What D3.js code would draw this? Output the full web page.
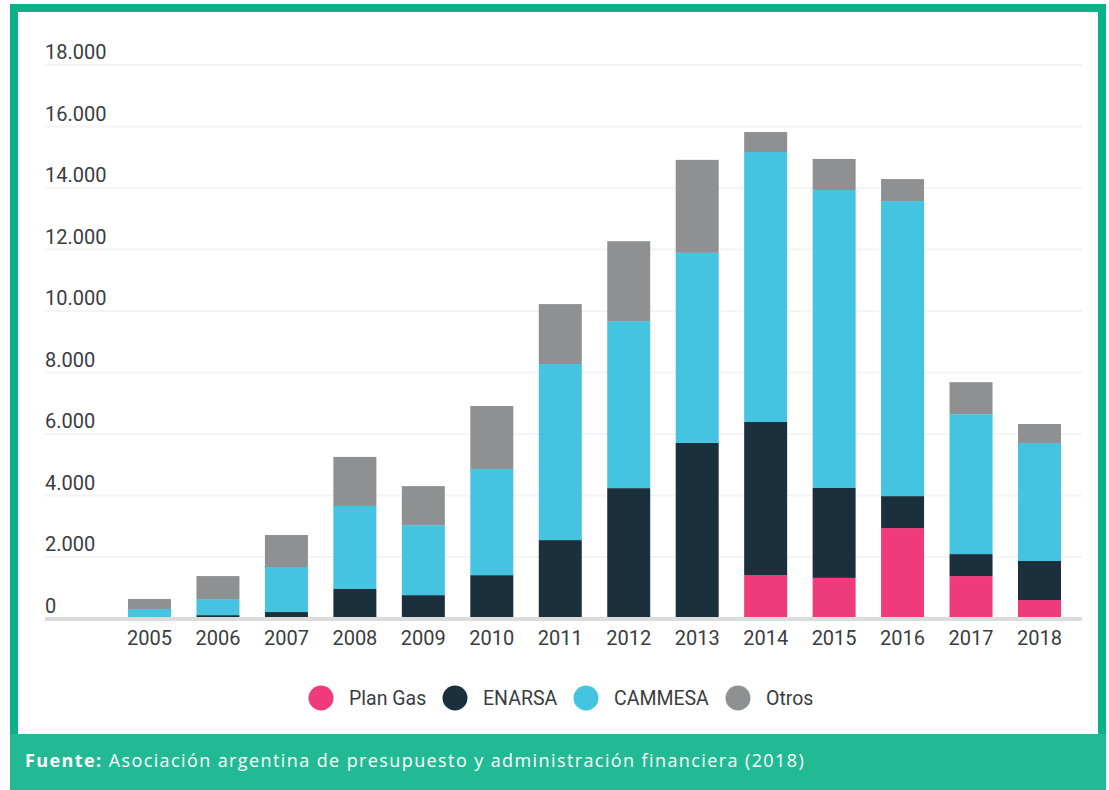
<!DOCTYPE html>
<html>
<head>
<meta charset="utf-8">
<script src="https://cdn.jsdelivr.net/npm/d3@7"></script>
<style>
  html, body { margin: 0; padding: 0; background: #fff; }
  svg { display: block; font-family: Roboto, "Noto Sans", sans-serif; }
</style>
</head>
<body>
<svg id="chart" width="1109" height="790"></svg>
<script>
// Datos (millones de $)
const years = ['2005', '2006', '2007', '2008', '2009', '2010', '2011', '2012', '2013', '2014', '2015', '2016', '2017', '2018'];
const planGas = [0, 0, 0, 0, 0, 0, 0, 0, 0, 1415, 1320, 2940, 1380, 600];
const enarsa  = [0, 110, 210, 960, 760, 1410, 2550, 4240, 5710, 4975, 2925, 1040, 715, 1270];
const cammesa = [310, 520, 1465, 2700, 2275, 3450, 5725, 5430, 6180, 8780, 9690, 9595, 4550, 3835];
const otros   = [325, 750, 1040, 1595, 1270, 2050, 1950, 2600, 3025, 650, 1010, 715, 1040, 620];
const yTicks = [0, 2000, 4000, 6000, 8000, 10000, 12000, 14000, 16000, 18000];

const seriesNames = ['Plan Gas', 'ENARSA', 'CAMMESA', 'Otros'];
const seriesColors = ['#ef3a7b', '#1a313d', '#44c4e1', '#8f9092'];

const svg = d3.select('#chart');

// Tabla para el stack
const rows = years.map((y, i) => ({
  year: y,
  'Plan Gas': planGas[i],
  'ENARSA': enarsa[i],
  'CAMMESA': cammesa[i],
  'Otros': otros[i]
}));

// Escalas
const x = d3.scaleBand().domain(years).range([128, 1061]).paddingInner(0.372).paddingOuter(0);
const y = d3.scaleLinear().domain([0, 18000]).range([618.5, 65]);
const color = d3.scaleOrdinal().domain(seriesNames).range(seriesColors);

const fmt = v => d3.format(',')(v).replace(/,/g, '.');
const textColor = '#3a3c40';

// Marco verde
svg.append('rect')
  .attr('x', 14).attr('y', 8)
  .attr('width', 1088).attr('height', 730)
  .attr('fill', '#fff')
  .attr('stroke', '#0bb288')
  .attr('stroke-width', 8);

// Grilla + etiquetas del eje Y
const grid = svg.append('g');
grid.selectAll('line')
  .data(yTicks.filter(d => d > 0))
  .enter().append('line')
  .attr('x1', 45).attr('x2', 1082)
  .attr('y1', d => y(d)).attr('y2', d => y(d))
  .attr('stroke', '#f4f4f4')
  .attr('stroke-width', 2);

grid.selectAll('text')
  .data(yTicks)
  .enter().append('text')
  .attr('x', 45)
  .attr('y', d => y(d) - 6)
  .attr('fill', textColor)
  .attr('font-size', 20)
  .attr('font-weight', 400)
  .text(d => fmt(d));

// Barras apiladas
const stacked = d3.stack().keys(seriesNames)(rows);
svg.append('g')
  .selectAll('g')
  .data(stacked)
  .enter().append('g')
  .attr('fill', d => color(d.key))
  .selectAll('rect')
  .data(d => d)
  .enter().append('rect')
  .attr('x', d => x(d.data.year))
  .attr('width', x.bandwidth())
  .attr('y', d => y(d[1]))
  .attr('height', d => y(d[0]) - y(d[1]));

// Línea base
svg.append('line')
  .attr('x1', 45).attr('x2', 1082)
  .attr('y1', y(0) + 0.5).attr('y2', y(0) + 0.5)
  .attr('stroke', '#dcdcdc')
  .attr('stroke-width', 4);

// Eje X
const xAxis = svg.append('g')
  .attr('transform', `translate(0,${y(0) + 2})`)
  .call(d3.axisBottom(x).tickSize(0).tickPadding(10));
xAxis.select('.domain').remove();
xAxis.selectAll('text')
  .attr('fill', textColor)
  .attr('font-size', 20)
  .attr('font-weight', 400)
  .attr('font-family', 'Roboto, sans-serif');

// Leyenda
const legendX = [321, 455, 586, 738];
const legend = svg.append('g');
seriesNames.forEach((name, i) => {
  legend.append('circle')
    .attr('cx', legendX[i]).attr('cy', 698)
    .attr('r', 12.5)
    .attr('fill', color(name));
  legend.append('text')
    .attr('x', legendX[i] + 28).attr('y', 705)
    .attr('fill', textColor)
    .attr('font-size', 19.5)
    .attr('font-weight', 400)
    .text(name);
});

// Pie: fuente
svg.append('rect')
  .attr('x', 10).attr('y', 734)
  .attr('width', 1096).attr('height', 56)
  .attr('fill', '#22ba94');

const src = svg.append('text')
  .attr('x', 25).attr('y', 767)
  .attr('fill', '#fff')
  .attr('font-size', 18)
  .attr('font-family', '"Open Sans", sans-serif')
  .attr('letter-spacing', 1.4);
src.append('tspan').attr('font-weight', 700).text('Fuente:');
src.append('tspan').text(' Asociación argentina de presupuesto y administración financiera (2018)');
</script>
</body>
</html>
